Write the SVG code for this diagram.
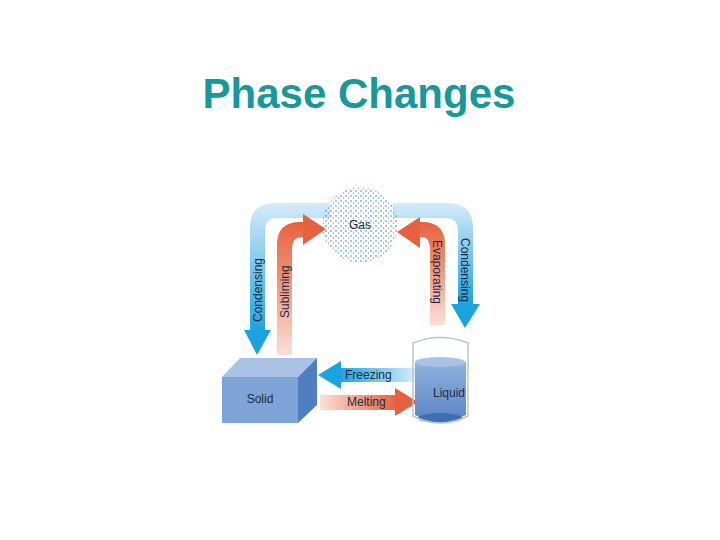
<svg xmlns="http://www.w3.org/2000/svg" width="720" height="540" viewBox="0 0 720 540">
<defs>
<linearGradient id="bv" x1="0" y1="0" x2="0" y2="1"><stop offset="0" stop-color="#d6ebf8"/><stop offset="1" stop-color="#1aa3e0"/></linearGradient>
<linearGradient id="rv" x1="0" y1="1" x2="0" y2="0"><stop offset="0" stop-color="#fbe0d6"/><stop offset="0.6" stop-color="#ee8f72"/><stop offset="1" stop-color="#e6623f"/></linearGradient>
<linearGradient id="bh" x1="1" y1="0" x2="0" y2="0"><stop offset="0" stop-color="#d6ebf8"/><stop offset="1" stop-color="#1aa3e0"/></linearGradient>
<linearGradient id="rh" x1="0" y1="0" x2="1" y2="0"><stop offset="0" stop-color="#fbe0d6"/><stop offset="1" stop-color="#e6623f"/></linearGradient>
<linearGradient id="liq" x1="0" y1="0" x2="0" y2="1"><stop offset="0" stop-color="#8fb2df"/><stop offset="1" stop-color="#5b84c4"/></linearGradient>
<pattern id="dots" width="5" height="5" patternUnits="userSpaceOnUse"><circle cx="1" cy="1" r="0.8" fill="#3f7fb8"/><circle cx="3.5" cy="3" r="0.7" fill="#6a9ccb"/></pattern>
<style>.t{font-family:"Liberation Sans",Arial,sans-serif;font-size:12px;fill:#1f2a44}</style>
</defs>
<rect width="720" height="540" fill="#fff"/>
<text x="359" y="108" text-anchor="middle" font-family="Liberation Sans,Arial,sans-serif" font-weight="bold" font-size="42" fill="#17999a">Phase Changes</text>
<g id="connectors">
<path d="M250,332 V228 Q250,203 275,203 H330 V218 H278 Q265,218 265,231 V332 Z" fill="url(#bv)"/>
<path d="M244,330 H271 L257,355 Z" fill="#1aa3e0"/>
<path d="M277,355 V245 Q277,222 300,222 H305 V237 H302 Q292,237 292,250 V355 Z" fill="url(#rv)"/>
<path d="M303,214 L326,229 L303,245 Z" fill="#e6623f"/>
<path d="M473,305 V228 Q473,203 448,203 H393 V218 H445 Q458,218 458,231 V305 Z" fill="url(#bv)"/>
<path d="M451,304 H480 L465,328 Z" fill="#1aa3e0"/>
<path d="M445,325 V245 Q445,222 422,222 H418 V237 H421 Q430,237 430,250 V325 Z" fill="url(#rv)"/>
<path d="M420,217 L397,232 L420,248 Z" fill="#e6623f"/>
<path d="M415,368 H340 V382 H415 Z" fill="url(#bh)"/>
<path d="M341,361 L318,375 L341,389 Z" fill="#1aa3e0"/>
<path d="M320,395 H396 V410 H320 Z" fill="url(#rh)"/>
<path d="M395,388 L418,402 L395,416 Z" fill="#e6623f"/>
</g>
<g id="gas">
<circle cx="360" cy="225" r="38" fill="url(#dots)"/>
<text class="t" x="360" y="229" text-anchor="middle">Gas</text>
</g>
<g id="solid">
<polygon points="222,377 240,358 317,358 298,377" fill="#a9c3e6"/>
<polygon points="298,377 317,358 317,405 298,423" fill="#4f7fc0"/>
<rect x="222" y="377" width="76" height="46" fill="#7ea3d6"/>
<text class="t" x="260" y="403" text-anchor="middle">Solid</text>
</g>
<g id="liquid">
<path d="M415,362 V415 Q440,428 466,415 V362 Z" fill="url(#liq)"/>
<ellipse cx="440" cy="362" rx="25" ry="5" fill="#a9c3e6"/>
<ellipse cx="440" cy="418" rx="22" ry="5" fill="#3f6fb2"/>
<path d="M413,343 Q440,332 468,343 V416 Q440,430 413,416 Z" fill="none" stroke="#b8c4d2" stroke-width="1.5"/>
<text class="t" x="449" y="397" text-anchor="middle">Liquid</text>
</g>
<g id="labels">
<text class="t" transform="translate(262,322) rotate(-90)">Condensing</text>
<text class="t" transform="translate(289,318) rotate(-90)">Subliming</text>
<text class="t" transform="translate(433,240) rotate(90)">Evaporating</text>
<text class="t" transform="translate(461,238) rotate(90)">Condensing</text>
<text class="t" x="345" y="379">Freezing</text>
<text class="t" x="347" y="406">Melting</text>
</g>
</svg>
